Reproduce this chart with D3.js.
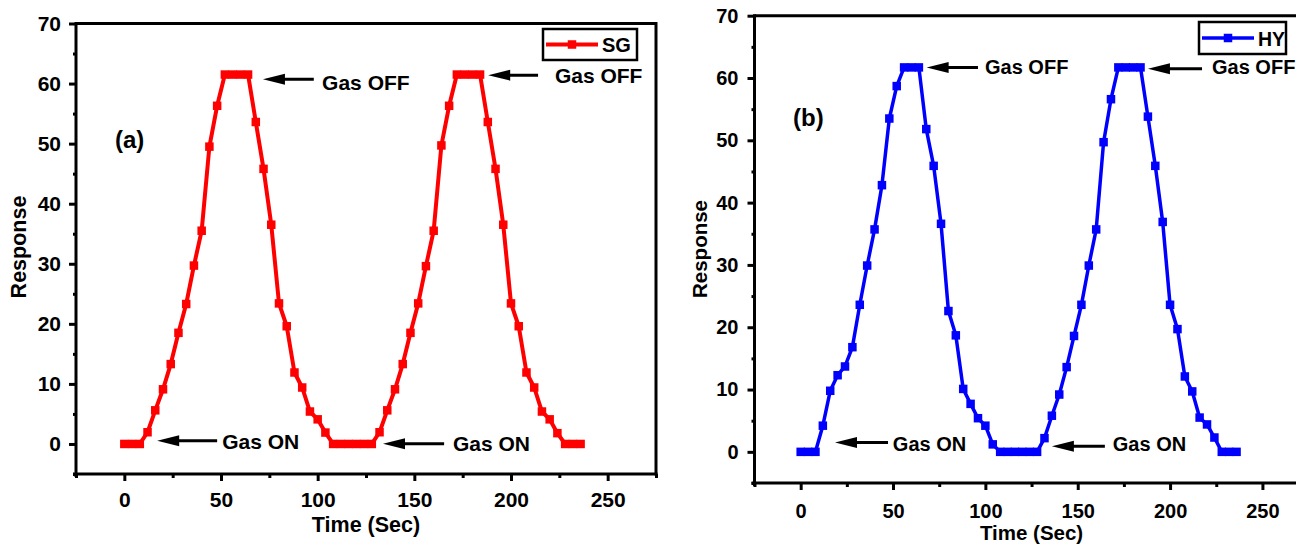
<!DOCTYPE html>
<html><head><meta charset="utf-8">
<script src="https://cdn.jsdelivr.net/npm/d3@7"></script>
<style>
body{margin:0;background:#fff}
svg text{font-family:"Liberation Sans",Arial,sans-serif;font-weight:bold;fill:#000}
</style>
</head><body>
<svg id="chart" width="1296" height="546"></svg>
<script>
// ---- data ----
const timeSec = [0,4,8,12,16,20,24,28,32,36,40,44,48,52,56,60,64,68,72,76,80,84,88,92,96,100,104,108,112,116,120,124,128,132,136,140,144,148,152,156,160,164,168,172,176,180,184,188,192,196,200,204,208,212,216,220,224,228,232,236];
const responseSG = [0,0,0,1.95,5.6,9.1,13.3,18.5,23.3,29.7,35.5,49.5,56.3,61.5,61.5,61.5,61.5,53.6,45.8,36.5,23.4,19.6,11.9,9.4,5.4,4.1,1.9,0,0,0,0,0,0,1.95,5.6,9.1,13.3,18.5,23.4,29.6,35.5,49.7,56.3,61.5,61.5,61.5,61.5,53.6,45.8,36.5,23.4,19.6,11.9,9.4,5.4,4.1,1.8,0,0,0];
const responseHY = [0,0,0,4.2,9.8,12.3,13.7,16.8,23.6,29.9,35.7,42.8,53.5,58.7,61.7,61.7,61.7,51.8,45.9,36.6,22.6,18.7,10.1,7.7,5.4,4.2,1.2,0,0,0,0,0,0,2.2,5.8,9.2,13.6,18.6,23.6,29.9,35.7,49.7,56.6,61.7,61.7,61.7,61.7,53.8,45.9,36.9,23.6,19.7,12.1,9.7,5.5,4.4,2.3,0,0,0];
const xMajorTicks = [0,50,100,150,200,250];
const xMinorTicks = [-25,25,75,125,175,225,275];
const yMajorTicks = [0,10,20,30,40,50,60,70];
const yMinorTicks = [-5,5,15,25,35,45,55,65];
const seriesNames = ["SG","HY"];
const panelLabels = ["(a)","(b)"];
const xTitle = "Time (Sec)";
const yTitle = "Response";

const svg = d3.select("#chart");

function drawPanel(o){
  const g = svg.append("g");
  const x = d3.scaleLinear().domain([-25,275]).range([o.x0,o.x1]);
  const y = d3.scaleLinear().domain([-5,70]).range([o.y0,o.y1]);
  const fs = o.fs;

  // frame (top + right)
  g.append("line").attr("x1",o.x0).attr("x2",Math.min(o.x1,1300)).attr("y1",o.y1).attr("y2",o.y1)
    .attr("stroke","#000").attr("stroke-width",3);
  if (o.x1 < 1296) g.append("line").attr("x1",o.x1).attr("x2",o.x1).attr("y1",o.y1-1.5).attr("y2",o.y0+1.5)
    .attr("stroke","#000").attr("stroke-width",3);

  // minor ticks
  g.append("g").attr("transform",`translate(0,${o.y0})`)
    .call(d3.axisBottom(x).tickValues(xMinorTicks).tickSize(4).tickFormat(""))
    .call(s=>s.select(".domain").remove())
    .selectAll("line").attr("stroke-width",3);
  g.append("g").attr("transform",`translate(${o.x0},0)`)
    .call(d3.axisLeft(y).tickValues(yMinorTicks).tickSize(3).tickFormat(""))
    .call(s=>s.select(".domain").remove())
    .selectAll("line").attr("stroke-width",3);

  // major axes
  const ax = g.append("g").attr("transform",`translate(0,${o.y0})`)
    .call(d3.axisBottom(x).tickValues(xMajorTicks).tickSize(7).tickSizeOuter(0).tickPadding(o.xPad));
  const ay = g.append("g").attr("transform",`translate(${o.x0},0)`)
    .call(d3.axisLeft(y).tickValues(yMajorTicks).tickSize(7).tickSizeOuter(0).tickPadding(o.yPad));
  [ax,ay].forEach(a=>{
    a.select(".domain").attr("stroke-width",3).attr("stroke-linecap","square");
    a.selectAll(".tick line").attr("stroke-width",3);
    a.selectAll("text").style("font-size",fs+"px").attr("font-family",null);
  });
  ax.select(".domain").attr("d",`M${o.x0-1.5},0H${o.x1}`);
  ay.select(".domain").attr("d",`M0,${o.y0+1.5}V${o.y1}`);

  // titles
  g.append("text").attr("x",(x(xMajorTicks[2])+x(xMajorTicks[3]))/2 + o.xtShift).attr("y",o.xtY)
    .attr("text-anchor","middle").style("font-size",o.tfs+"px").text(xTitle);
  g.append("text").attr("transform",`translate(${o.ytX},${o.ytY}) rotate(-90)`)
    .attr("text-anchor","middle").style("font-size",o.tfs+"px").text(yTitle);

  // series
  const pts = timeSec.map((t,i)=>[t,o.values[i]]);
  g.append("path").datum(pts)
    .attr("d",d3.line().x(d=>x(d[0])).y(d=>y(d[1])))
    .attr("fill","none").attr("stroke",o.color).attr("stroke-width",o.lw).attr("stroke-linejoin","round");
  const ms = o.ms;
  g.selectAll("rect.m").data(pts).join("rect").attr("class","m")
    .attr("x",d=>x(d[0])-ms/2).attr("y",d=>y(d[1])-ms/2).attr("width",ms).attr("height",ms)
    .attr("fill",o.color);

  // panel label
  g.append("text").attr("x",o.lab[0]).attr("y",o.lab[1]).style("font-size","24px").text(o.label);

  // legend
  const L = o.leg;
  g.append("rect").attr("x",L.x).attr("y",L.y).attr("width",L.w).attr("height",L.h)
    .attr("fill","#fff").attr("stroke","#000").attr("stroke-width",2.5);
  g.append("line").attr("x1",L.x+3).attr("x2",L.x+55).attr("y1",L.y+L.h/2).attr("y2",L.y+L.h/2)
    .attr("stroke",o.color).attr("stroke-width",o.lw);
  g.append("rect").attr("x",L.x+29-ms/2).attr("y",L.y+L.h/2-ms/2).attr("width",ms).attr("height",ms).attr("fill",o.color);
  g.append("text").attr("x",L.x+59).attr("y",L.y+L.h/2+7.5).style("font-size",L.fs+"px").text(o.name);

  // annotations: arrows + text (positions in data units)
  o.ann.forEach(a=>{
    const tx = x(a.tip), ty = y(a.ty), ex = x(a.tail);
    g.append("line").attr("x1",tx+14).attr("x2",ex).attr("y1",ty).attr("y2",ty)
      .attr("stroke","#000").attr("stroke-width",3);
    g.append("path").attr("d",`M${tx},${ty}L${tx+22},${ty-5.5}L${tx+22},${ty+5.5}Z`).attr("fill","#000");
    g.append("text").attr("x",x(a.textX)).attr("y",y(a.textY)).style("font-size",fs+"px").text(a.text);
  });
}

drawPanel({
  x0:76, x1:656, y0:474, y1:23.5, fs:21, tfs:21.5, xPad:11, yPad:8,
  xtY:532, xtShift:0, ytX:26, ytY:247,
  values:responseSG, color:"#ff0000", lw:4, ms:8.5, name:seriesNames[0], label:panelLabels[0],
  lab:[115,148],
  leg:{x:543,y:29,w:94,h:31,fs:20},
  ann:[
    {text:"Gas OFF", tip:71.7, tail:98, ty:60.7, textX:102.3, textY:59},
    {text:"Gas OFF", tip:188.2, tail:214, ty:61.4, textX:222.7, textY:60.1},
    {text:"Gas ON", tip:17, tail:48, ty:0.55, textX:50.6, textY:-0.8},
    {text:"Gas ON", tip:133.8, tail:165.4, ty:0.05, textX:170, textY:-1.1}
  ]
});
drawPanel({
  x0:754.5, x1:1308.6, y0:483, y1:15.7, fs:20, tfs:20.5, xPad:14, yPad:9,
  xtY:540, xtShift:0, ytX:707, ytY:249,
  values:responseHY, color:"#0000ff", lw:3.5, ms:8.5, name:seriesNames[1], label:panelLabels[1],
  lab:[793,126],
  leg:{x:1199,y:22,w:87,h:32,fs:19.5},
  ann:[
    {text:"Gas OFF", tip:68.2, tail:96, ty:61.7, textX:99.8, textY:60.7},
    {text:"Gas OFF", tip:188, tail:217.3, ty:61.5, textX:222.7, textY:60.6},
    {text:"Gas ON", tip:18.6, tail:47.3, ty:1.5, textX:49.9, textY:0.2},
    {text:"Gas ON", tip:136, tail:164.7, ty:0.9, textX:169, textY:0.1}
  ]
});
</script>
</body></html>
